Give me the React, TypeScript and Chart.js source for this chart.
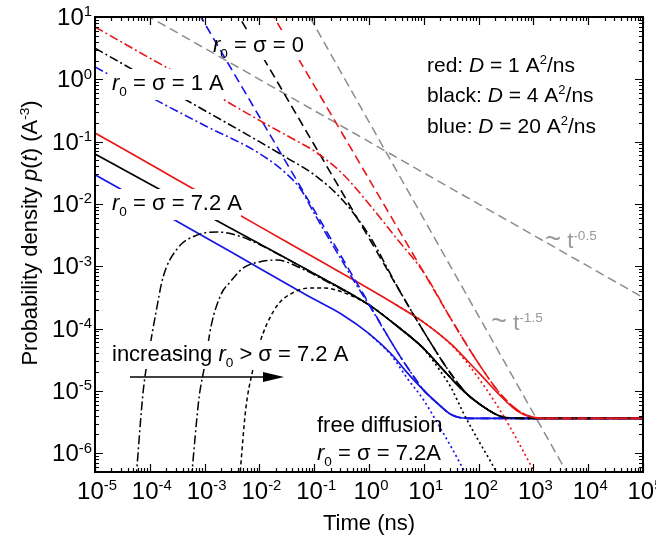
import React, { useEffect, useRef } from 'react';
import { Chart, registerables } from 'chart.js';

Chart.register(...registerables);

type Pt = [number, number];

// ---- axis ranges ----
const X_MIN = 1e-5;
const X_MAX = 1e5;
const Y_MIN = 5e-7;
const Y_MAX = 10;
const X_DECADES = [-5, -4, -3, -2, -1, 0, 1, 2, 3, 4, 5];
const Y_DECADES = [-6, -5, -4, -3, -2, -1, 0, 1];

// ---- reference power laws (gray) ----
const grayHalf: Pt[] = [[5e-5, 14.1], [1e5, 3.16e-4]];
const grayThreeHalves: Pt[] = [[0.063, 15.4], [5600, 3.0e-7]];

// ---- red: D = 1 A^2/ns ----
const redSolid: Pt[] = [[1e-5, 0.138], [1e-4, 0.0437], [1e-3, 0.0138], [1e-2, 4.37e-3], [0.1, 1.38e-3], [1, 4.37e-4], [3.16, 2.4e-4], [10, 1.26e-4], [31.6, 5.62e-5], [63.1, 3.02e-5], [126, 1.585e-5], [251, 8.32e-6], [501, 4.79e-6], [891, 3.8e-6], [1585, 3.63e-6], [1e5, 3.63e-6]];
const redDotted: Pt[] = [[3.16, 2.4e-4], [10, 1.26e-4], [31.6, 5.5e-5], [63.1, 2.75e-5], [126, 1.2e-5], [251, 4.79e-6], [501, 1.66e-6], [1000, 5.37e-7], [1413, 3.16e-7]];
const redDashed: Pt[] = [[0.0158, 12.6], [0.1, 0.794], [1, 0.0251], [10, 7.94e-4], [31.6, 1.41e-4], [100, 2.75e-5], [251, 8.91e-6], [501, 5.01e-6], [891, 3.89e-6], [1585, 3.63e-6], [1e5, 3.63e-6]];
const redDashDot: Pt[] = [[1e-5, 6.92], [1e-4, 2.19], [1e-3, 0.708], [0.01, 0.219], [0.0398, 0.112], [0.1, 0.0708], [0.316, 0.0316], [1, 0.01], [3.16, 2.82e-3], [10, 7.94e-4], [31.6, 1.41e-4], [100, 2.75e-5], [251, 8.91e-6], [501, 5.01e-6], [891, 3.89e-6], [1585, 3.63e-6], [1e5, 3.63e-6]];

// ---- black: D = 4 A^2/ns ----
const blackSolid: Pt[] = [[1e-5, 0.0631], [1e-4, 0.0209], [1e-3, 6.92e-3], [0.01, 2.29e-3], [0.1, 7.59e-4], [1, 2.4e-4], [3.16, 1.12e-4], [10, 4.79e-5], [20, 2.45e-5], [50, 1.05e-5], [100, 6.31e-6], [200, 4.27e-6], [316, 3.72e-6], [631, 3.63e-6], [1e5, 3.63e-6]];
const blackDotted: Pt[] = [[3.16, 1.12e-4], [10, 4.68e-5], [20, 2.09e-5], [31.6, 1.12e-5], [52.5, 4.47e-6], [100, 1.585e-6], [158, 7.94e-7], [282, 3.16e-7]];
const blackDashed: Pt[] = [[3.55e-3, 13.3], [0.01, 2.82], [0.1, 0.0891], [1, 2.82e-3], [10, 8.91e-5], [31.6, 1.85e-5], [63.1, 8.71e-6], [100, 6.31e-6], [200, 4.27e-6], [316, 3.72e-6], [631, 3.63e-6], [1e5, 3.63e-6]];
const blackDashDot: Pt[] = [[1e-5, 3.16], [1e-4, 1.0], [1e-3, 0.316], [0.01, 0.1], [0.0316, 0.055], [0.1, 0.0295], [0.316, 0.012], [1, 3.16e-3], [3.16, 5.01e-4], [10, 8.91e-5], [31.6, 1.85e-5], [63.1, 8.71e-6], [100, 6.31e-6], [200, 4.27e-6], [316, 3.72e-6], [631, 3.63e-6], [1e5, 3.63e-6]];

// ---- blue: D = 20 A^2/ns ----
const blueSolid: Pt[] = [[1e-5, 0.0295], [1e-4, 9.33e-3], [1e-3, 2.95e-3], [0.01, 9.33e-4], [0.1, 2.95e-4], [0.316, 1.7e-4], [1, 8.32e-5], [2.51, 3.98e-5], [5.01, 1.95e-5], [10, 1.02e-5], [17.8, 6.31e-6], [31.6, 4.17e-6], [63.1, 3.63e-6], [1e5, 3.63e-6]];
const blueDotted: Pt[] = [[1, 8.32e-5], [2.51, 3.8e-5], [5.01, 1.585e-5], [10, 7.08e-6], [17.8, 3.02e-6], [31.6, 1.26e-6], [56.2, 5.01e-7], [79.4, 3.02e-7]];
const blueDashed: Pt[] = [[7.94e-4, 11.2], [0.01, 0.251], [0.1, 7.94e-3], [1, 2.51e-4], [3.16, 4.47e-5], [6.31, 1.78e-5], [10, 1.02e-5], [17.8, 6.31e-6], [31.6, 4.17e-6], [63.1, 3.63e-6], [1e5, 3.63e-6]];
const blueDashDot: Pt[] = [[1e-5, 1.585], [1e-4, 0.525], [1e-3, 0.182], [0.01, 0.0646], [0.0316, 0.0302], [0.0562, 0.0174], [0.1, 7.08e-3], [0.178, 2.95e-3], [0.316, 1.26e-3], [0.562, 5.37e-4], [1, 2.4e-4], [3.16, 4.47e-5], [6.31, 1.78e-5], [10, 1.02e-5], [17.8, 6.31e-6], [31.6, 4.17e-6], [63.1, 3.63e-6], [1e5, 3.63e-6]];

// ---- black, increasing r0 > sigma = 7.2 A ----
const rGreaterA: Pt[] = [[5.62e-5, 3.98e-7], [7.59e-5, 1.0e-5], [1e-4, 5.01e-5], [1.26e-4, 1.585e-4], [1.74e-4, 6.61e-4], [3.16e-4, 1.905e-3], [7.24e-4, 3.16e-3], [1.7e-3, 3.55e-3], [4.47e-3, 3.02e-3], [0.0117, 2.09e-3], [0.0316, 1.32e-3], [0.1, 7.59e-4], [1, 2.4e-4], [3.16, 1.12e-4], [10, 4.79e-5], [20, 2.45e-5], [50, 1.05e-5], [100, 6.31e-6], [200, 4.27e-6]];
const rGreaterB: Pt[] = [[5.75e-4, 3.98e-7], [7.94e-4, 7.94e-6], [1e-3, 2.51e-5], [1.32e-3, 1.12e-4], [2.0e-3, 3.55e-4], [2.88e-3, 5.5e-4], [5.01e-3, 9.33e-4], [0.01, 1.175e-3], [0.0209, 1.26e-3], [0.0631, 8.91e-4], [0.2, 5.25e-4], [1, 2.4e-4], [3.16, 1.12e-4], [10, 4.79e-5], [20, 2.45e-5], [50, 1.05e-5], [100, 6.31e-6], [200, 4.27e-6]];
const rGreaterC: Pt[] = [[4.37e-3, 3.98e-7], [5.62e-3, 5.01e-6], [7.59e-3, 2.19e-5], [0.01, 5.62e-5], [0.0138, 1.2e-4], [0.0224, 2.51e-4], [0.0398, 3.72e-4], [0.0794, 4.47e-4], [0.158, 4.47e-4], [0.339, 3.8e-4], [1, 2.4e-4], [3.16, 1.12e-4], [10, 4.79e-5], [20, 2.45e-5], [50, 1.05e-5], [100, 6.31e-6], [200, 4.27e-6]];

// ---- styles ----
const RED = 'rgb(232,22,22)';
const BLACK = '#000000';
const BLUE = 'rgb(22,22,228)';
const GRAY = '#8c8c8c';
const GRAY_TEXT = '#9a9a9a';
const FONT = '"Liberation Sans", Arial, Helvetica, sans-serif';

const DASH: number[] = [9, 5];
const DASHDOT: number[] = [9, 3, 2, 3];
const DOT: number[] = [2, 3];
const SHORT: number[] = [4, 3];

type Seg = { t: string; it?: boolean; sub?: boolean; sup?: boolean; scale?: number };

function drawRich(ctx: CanvasRenderingContext2D, segs: Seg[], x: number, y: number, size: number, align: 'left' | 'center' | 'right', color: string) {
  const parts = segs.map((s) => {
    const small = s.sub || s.sup;
    const fs = (small ? size * 0.62 : size) * (s.scale || 1);
    const font = `${s.it ? 'italic ' : ''}${fs}px ${FONT}`;
    ctx.font = font;
    const w = ctx.measureText(s.t).width;
    const dy = s.sub ? size * 0.28 : s.sup ? -size * 0.36 : 0;
    return { t: s.t, font, w, dy };
  });
  const total = parts.reduce((acc, p) => acc + p.w, 0);
  let cx = align === 'left' ? x : align === 'center' ? x - total / 2 : x - total;
  ctx.fillStyle = color;
  ctx.textAlign = 'left';
  ctx.textBaseline = 'alphabetic';
  for (const p of parts) {
    ctx.font = p.font;
    ctx.fillText(p.t, cx, y + p.dy);
    cx += p.w;
  }
}

type Label = { segs: Seg[]; x: number; y: number; size: number; color: string; mask?: [number, number, number, number] };

const LABELS: Label[] = [
  { segs: [{ t: 'r', it: true }, { t: '0', sub: true }, { t: ' = σ = 0' }], x: 213, y: 52, size: 22, color: BLACK, mask: [227, 30, 80, 30] },
  { segs: [{ t: 'r', it: true }, { t: '0', sub: true }, { t: ' = σ = 1 A' }], x: 112, y: 90, size: 22, color: BLACK, mask: [109, 69, 114, 31] },
  { segs: [{ t: 'r', it: true }, { t: '0', sub: true }, { t: ' = σ = 7.2 A' }], x: 112, y: 210, size: 22, color: BLACK, mask: [109, 189, 132, 31] },
  { segs: [{ t: 'increasing ' }, { t: 'r', it: true }, { t: '0', sub: true }, { t: ' > σ = 7.2 A' }], x: 112, y: 361, size: 22, color: BLACK, mask: [109, 341, 240, 28] },
  { segs: [{ t: 'free diffusion' }], x: 317, y: 432, size: 22, color: BLACK },
  { segs: [{ t: 'r', it: true }, { t: '0', sub: true }, { t: ' = σ = 7.2A' }], x: 317, y: 460, size: 22, color: BLACK },
  { segs: [{ t: 'red: ' }, { t: 'D', it: true }, { t: ' = 1 A' }, { t: '2', sup: true }, { t: '/ns' }], x: 427, y: 72, size: 21, color: BLACK },
  { segs: [{ t: 'black: ' }, { t: 'D', it: true }, { t: ' = 4 A' }, { t: '2', sup: true }, { t: '/ns' }], x: 427, y: 102, size: 21, color: BLACK },
  { segs: [{ t: 'blue: ' }, { t: 'D', it: true }, { t: ' = 20 A' }, { t: '2', sup: true }, { t: '/ns' }], x: 427, y: 133, size: 21, color: BLACK },
  { segs: [{ t: '~', scale: 1.25 }, { t: ' t' }, { t: '-0.5', sup: true }], x: 545, y: 248, size: 22, color: GRAY_TEXT },
  { segs: [{ t: '~', scale: 1.25 }, { t: ' t' }, { t: '-1.5', sup: true }], x: 491, y: 330, size: 22, color: GRAY_TEXT },
];

const decor = {
  id: 'decor',
  afterDraw(chart: any) {
    const ctx: CanvasRenderingContext2D = chart.ctx;
    const a = chart.chartArea;
    const xs = chart.scales.x;
    const ys = chart.scales.y;
    ctx.save();

    // label masks and labels
    for (const l of LABELS) {
      if (l.mask) {
        ctx.fillStyle = '#ffffff';
        ctx.fillRect(l.mask[0], l.mask[1], l.mask[2], l.mask[3]);
      }
    }
    for (const l of LABELS) drawRich(ctx, l.segs, l.x, l.y, l.size, 'left', l.color);

    // arrow
    ctx.strokeStyle = BLACK;
    ctx.lineWidth = 1.5;
    ctx.setLineDash([]);
    ctx.beginPath();
    ctx.moveTo(130, 377);
    ctx.lineTo(266, 377);
    ctx.stroke();
    ctx.fillStyle = BLACK;
    ctx.beginPath();
    ctx.moveTo(263, 372);
    ctx.lineTo(284, 377);
    ctx.lineTo(263, 382);
    ctx.closePath();
    ctx.fill();

    // frame
    ctx.lineWidth = 2;
    ctx.strokeRect(a.left, a.top, a.right - a.left, a.bottom - a.top);

    // ticks (inward, all four sides)
    ctx.lineWidth = 1.2;
    ctx.beginPath();
    for (let e = -5; e <= 5; e++) {
      for (let k = 1; k <= 9; k++) {
        const v = k * Math.pow(10, e);
        if (v < X_MIN * 0.999 || v > X_MAX * 1.001) continue;
        const px = Math.round(xs.getPixelForValue(v)) + 0.5;
        const L = k === 1 ? 8 : 4;
        ctx.moveTo(px, a.bottom);
        ctx.lineTo(px, a.bottom - L);
        ctx.moveTo(px, a.top);
        ctx.lineTo(px, a.top + L);
      }
    }
    for (let e = -7; e <= 1; e++) {
      for (let k = 1; k <= 9; k++) {
        const v = k * Math.pow(10, e);
        if (v < Y_MIN * 0.999 || v > Y_MAX * 1.001) continue;
        const py = Math.round(ys.getPixelForValue(v)) + 0.5;
        const L = k === 1 ? 8 : 4;
        ctx.moveTo(a.left, py);
        ctx.lineTo(a.left + L, py);
        ctx.moveTo(a.right, py);
        ctx.lineTo(a.right - L, py);
      }
    }
    ctx.stroke();

    // tick labels
    for (const e of X_DECADES) {
      const px = xs.getPixelForValue(Math.pow(10, e));
      drawRich(ctx, [{ t: '10' }, { t: String(e), sup: true }], px + 2, 499, 24, 'center', BLACK);
    }
    for (const e of Y_DECADES) {
      const py = ys.getPixelForValue(Math.pow(10, e));
      drawRich(ctx, [{ t: '10' }, { t: String(e), sup: true }], 92, py + 8, 24, 'right', BLACK);
    }

    // axis titles
    drawRich(ctx, [{ t: 'Time (ns)' }], (a.left + a.right) / 2, 530, 22, 'center', BLACK);
    ctx.save();
    ctx.translate(37, 233);
    ctx.rotate(-Math.PI / 2);
    drawRich(ctx, [{ t: 'Probability density ' }, { t: 'p', it: true }, { t: '(' }, { t: 't', it: true }, { t: ') (A' }, { t: '-3', sup: true }, { t: ')' }], 0, 0, 22, 'center', BLACK);
    ctx.restore();

    ctx.restore();
  },
};

type Series = { name: string; data: Pt[]; color: string; dash: number[]; width: number; order: number };

const SERIES: Series[] = [
  { name: 'red σ=0', data: redDashed, color: RED, dash: DASH, width: 1.6, order: 1 },
  { name: 'red σ=1', data: redDashDot, color: RED, dash: DASHDOT, width: 1.6, order: 1 },
  { name: 'red free', data: redDotted, color: RED, dash: DOT, width: 1.7, order: 1 },
  { name: 'black σ=0', data: blackDashed, color: BLACK, dash: DASH, width: 1.6, order: 1 },
  { name: 'black σ=1', data: blackDashDot, color: BLACK, dash: DASHDOT, width: 1.6, order: 1 },
  { name: 'black free', data: blackDotted, color: BLACK, dash: DOT, width: 1.7, order: 1 },
  { name: 'blue σ=0', data: blueDashed, color: BLUE, dash: DASH, width: 1.6, order: 1 },
  { name: 'blue σ=1', data: blueDashDot, color: BLUE, dash: DASHDOT, width: 1.6, order: 1 },
  { name: 'blue free', data: blueDotted, color: BLUE, dash: DOT, width: 1.7, order: 1 },
  { name: 'r0>σ A', data: rGreaterA, color: BLACK, dash: DASHDOT, width: 1.5, order: 1 },
  { name: 'r0>σ B', data: rGreaterB, color: BLACK, dash: DASHDOT, width: 1.5, order: 1 },
  { name: 'r0>σ C', data: rGreaterC, color: BLACK, dash: SHORT, width: 1.5, order: 1 },
  { name: 'red σ=7.2', data: redSolid, color: RED, dash: [], width: 1.7, order: 2 },
  { name: 'black σ=7.2', data: blackSolid, color: BLACK, dash: [], width: 1.7, order: 2 },
  { name: 'blue σ=7.2', data: blueSolid, color: BLUE, dash: [], width: 1.7, order: 2 },
  { name: '~t^-0.5', data: grayHalf, color: GRAY, dash: DASH, width: 1.5, order: 3 },
  { name: '~t^-1.5', data: grayThreeHalves, color: GRAY, dash: DASH, width: 1.5, order: 3 },
];

export default function App() {
  const ref = useRef<HTMLCanvasElement | null>(null);

  useEffect(() => {
    if (!ref.current) return;
    const datasets = SERIES.map((s) => ({
      label: s.name,
      data: s.data.map(([x, y]) => ({ x, y })),
      showLine: true,
      borderColor: s.color,
      backgroundColor: s.color,
      borderWidth: s.width,
      borderDash: s.dash,
      pointRadius: 0,
      pointHoverRadius: 0,
      fill: false,
      cubicInterpolationMode: 'monotone' as const,
      order: s.order,
    }));
    const chart = new Chart(ref.current, {
      type: 'scatter',
      data: { datasets },
      options: {
        responsive: false,
        animation: false,
        devicePixelRatio: 1,
        layout: { padding: { left: 95, right: 13, top: 17, bottom: 66 } },
        scales: {
          x: { type: 'logarithmic', min: X_MIN, max: X_MAX, display: false },
          y: { type: 'logarithmic', min: Y_MIN, max: Y_MAX, display: false },
        },
        elements: { line: { capBezierPoints: false } },
        plugins: { legend: { display: false }, tooltip: { enabled: false } },
        events: [],
      },
      plugins: [decor],
    } as any);
    return () => chart.destroy();
  }, []);

  return (
    <div style={{ position: 'fixed', left: 0, top: 0, width: 656, height: 538, background: '#fff' }}>
      <canvas ref={ref} width={656} height={538} style={{ display: 'block', width: 656, height: 538 }} />
    </div>
  );
}
